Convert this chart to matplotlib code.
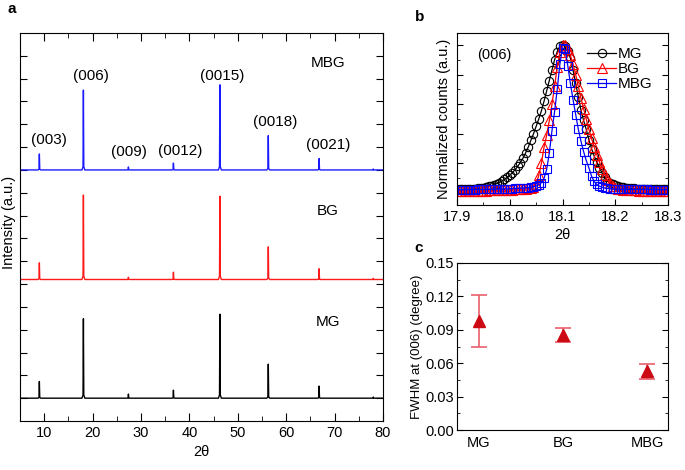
import numpy as np
import matplotlib
matplotlib.use("Agg")
import matplotlib.pyplot as plt
from matplotlib.ticker import MultipleLocator

plt.rcParams['font.family'] = ['Liberation Sans', 'DejaVu Sans']

# ---- panel a: XRD patterns (peak position, height above baseline) ----
peak_pos = [9.0, 18.1, 27.4, 36.7, 46.3, 56.3, 66.8, 78.0]
peak_labels = ["(003)", "(006)", "(009)", "(0012)", "(0015)", "(0018)", "(0021)"]
label_x = [11.0, 19.6, 27.5, 38.1, 46.7, 57.7, 68.6]
label_y = [12.3, 15.1, 11.8, 11.85, 15.1, 13.1, 12.1]

mg_heights = [0.73, 3.48, 0.18, 0.35, 3.68, 1.49, 0.53, 0.05]
bg_heights = [0.73, 3.70, 0.10, 0.32, 3.65, 1.43, 0.47, 0.05]
mbg_heights = [0.70, 3.50, 0.13, 0.30, 3.73, 1.50, 0.50, 0.04]
offsets = [1.0, 6.2, 11.0]
sample_names = ["MG", "BG", "MBG"]
sample_colors = ["black", "#ff1a1a", "#1a1aff"]
name_y = [4.35, 9.2, 15.7]

# ---- panel b: normalized (006) peak ----
two_theta = np.round(np.arange(17.9, 18.3001, 0.005), 3)
mg_norm = [0.025, 0.025, 0.025, 0.026, 0.026, 0.027, 0.028, 0.029, 0.031, 0.034,
           0.037, 0.041, 0.045, 0.05, 0.056, 0.063, 0.071, 0.081, 0.092, 0.105,
           0.12, 0.137, 0.157, 0.18, 0.206, 0.235, 0.27, 0.31, 0.355, 0.40,
           0.45, 0.5, 0.555, 0.62, 0.69, 0.76, 0.83, 0.9, 0.955, 0.99,
           1.0,
           0.99, 0.96, 0.91, 0.83, 0.74, 0.65, 0.56, 0.49, 0.43, 0.36,
           0.30, 0.25, 0.21, 0.17, 0.135, 0.105, 0.083, 0.068, 0.058, 0.051,
           0.046, 0.042, 0.039, 0.036, 0.034, 0.032, 0.031, 0.030, 0.029, 0.028,
           0.028, 0.027, 0.027, 0.027, 0.026, 0.026, 0.026, 0.026, 0.026, 0.026]
bg_norm = [0.012, 0.012, 0.012, 0.013, 0.013, 0.013, 0.014, 0.014, 0.015, 0.015,
           0.016, 0.016, 0.017, 0.017, 0.018, 0.018, 0.019, 0.02, 0.02, 0.021,
           0.022, 0.023, 0.024, 0.025, 0.026, 0.027, 0.029, 0.031, 0.034, 0.04,
           0.06, 0.12, 0.2, 0.31, 0.39, 0.49, 0.6, 0.72, 0.85, 0.95,
           1.0,
           1.0, 0.97, 0.93, 0.87, 0.80, 0.72, 0.64, 0.57, 0.50, 0.43,
           0.37, 0.31, 0.26, 0.21, 0.165, 0.125, 0.09, 0.065, 0.048, 0.037,
           0.03, 0.026, 0.023, 0.021, 0.02, 0.019, 0.018, 0.017, 0.016, 0.016,
           0.015, 0.015, 0.015, 0.014, 0.014, 0.014, 0.014, 0.013, 0.013, 0.013]
mbg_norm = [0.022, 0.022, 0.022, 0.022, 0.023, 0.023, 0.023, 0.023, 0.024, 0.024,
            0.024, 0.025, 0.025, 0.025, 0.026, 0.026, 0.027, 0.027, 0.028, 0.028,
            0.029, 0.03, 0.031, 0.032, 0.033, 0.034, 0.035, 0.037, 0.039, 0.042,
            0.047, 0.055, 0.07, 0.1, 0.16, 0.27, 0.42, 0.55, 0.70, 0.87,
            0.98,
            0.97, 0.86, 0.74, 0.63, 0.53, 0.43, 0.35, 0.28, 0.22, 0.17,
            0.115, 0.078, 0.058, 0.046, 0.039, 0.034, 0.031, 0.029, 0.028, 0.027,
            0.026, 0.026, 0.025, 0.025, 0.025, 0.025, 0.024, 0.024, 0.024, 0.024,
            0.024, 0.024, 0.023, 0.023, 0.023, 0.023, 0.023, 0.023, 0.023, 0.023]

# ---- panel c: FWHM ----
fwhm = [0.098, 0.0855, 0.0534]
fwhm_err_low = [0.0233, 0.0063, 0.0075]
fwhm_err_high = [0.0229, 0.0057, 0.0060]


def pattern(heights, base):
    # thin peaks drawn as narrow spikes on a flat baseline
    xs = [5.0]
    ys = [base]
    for p, h in zip(peak_pos, heights):
        xs += [p - 0.3, p - 0.08, p, p + 0.08, p + 0.3]
        ys += [base, base + 0.04 * h, base + h, base + 0.04 * h, base]
    xs.append(80.0)
    ys.append(base)
    return xs, ys


fig = plt.figure(figsize=(6.85, 4.7), dpi=100)

# panel a
ax = fig.add_axes([20 / 685, 1 - 421 / 470, 363 / 685, 388 / 470])
for heights, base, name, col, ny in zip([mg_heights, bg_heights, mbg_heights],
                                        offsets, sample_names, sample_colors, name_y):
    xs, ys = pattern(heights, base)
    ax.plot(xs, ys, color=col, lw=1.0)
    ax.text(68.6, ny, name, fontsize=11, ha='center', va='center')
for lab, lx, ly in zip(peak_labels, label_x, label_y):
    ax.text(lx, ly, lab, fontsize=11, ha='center', va='center')
ax.set_xlim(5, 80)
ax.set_ylim(0, 17)
ax.xaxis.set_major_locator(MultipleLocator(10))
ax.xaxis.set_minor_locator(MultipleLocator(5))
ax.set_yticks(np.arange(1, 17))
ax.tick_params(axis='x', which='both', direction='in', top=True, labelsize=10.5)
ax.tick_params(axis='x', which='major', length=6)
ax.tick_params(axis='x', which='minor', length=3.5)
ax.tick_params(axis='y', which='both', direction='in', right=True, labelleft=False, length=5)
ax.set_xlabel("2θ", fontsize=10.5, labelpad=4)
fig.text(9 / 685, 1 - 222 / 470, "Intensity (a.u.)", rotation=90, fontsize=10.5,
         ha='center', va='center')
fig.text(12 / 685, 1 - 9 / 470, "a", fontsize=11, fontweight='bold', ha='center', va='center')

# panel b
bx = fig.add_axes([457 / 685, 1 - 205 / 470, 211 / 685, 172 / 470])
bx.plot(two_theta, mg_norm, '-o', color='black', mfc='none', ms=6, mew=0.8, lw=0.9, label='MG')
bx.plot(two_theta, bg_norm, '-^', color='red', mfc='none', ms=6.5, mew=0.8, lw=0.9, label='BG')
bx.plot(two_theta, mbg_norm, '-s', color='blue', mfc='none', ms=5.5, mew=0.8, lw=0.9, label='MBG')
bx.set_xlim(17.9, 18.3)
bx.set_ylim(-0.081, 1.081)
bx.xaxis.set_major_locator(MultipleLocator(0.1))
bx.xaxis.set_minor_locator(MultipleLocator(0.05))
bx.yaxis.set_major_locator(MultipleLocator(0.2))
bx.yaxis.set_minor_locator(MultipleLocator(0.1))
bx.tick_params(axis='x', which='both', direction='in', labelsize=10.5)
bx.tick_params(axis='y', which='both', direction='in', right=True, labelleft=False)
bx.tick_params(which='major', length=4)
bx.tick_params(which='minor', length=2.5)
bx.set_xticks([17.9, 18.0, 18.1, 18.2, 18.3])
bx.set_xticklabels(["17.9", "18.0", "18.1", "18.2", "18.3"])
bx.text(17.97, 0.93, "(006)", fontsize=10.5, ha='center', va='center')
bx.legend(loc='upper right', frameon=False, fontsize=11, handlelength=1.9,
          handletextpad=0.1, labelspacing=0.05, borderaxespad=0.2,
          bbox_to_anchor=(0.97, 0.97))
bx.set_xlabel("2θ", fontsize=10.5, labelpad=3)
bx.set_ylabel("Normalized counts (a.u.)", fontsize=10.5, labelpad=4)
fig.text(420 / 685, 1 - 17 / 470, "b", fontsize=11, fontweight='bold', ha='center', va='center')

# panel c
cx = fig.add_axes([457 / 685, 1 - 430 / 470, 211 / 685, 167 / 470])
cx.errorbar([1, 2, 3], fwhm, yerr=[fwhm_err_low, fwhm_err_high], fmt='none',
            ecolor='#e8606c', elinewidth=1.2, capsize=6, capthick=1.2)
cx.plot([1, 2, 3], fwhm, '^', color='#cc0a14', ms=9, ls='none')
cx.set_xlim(0.74, 3.25)
cx.set_ylim(0, 0.15)
cx.set_xticks([1, 2, 3])
cx.set_xticklabels(sample_names)
cx.yaxis.set_major_locator(MultipleLocator(0.03))
cx.yaxis.set_minor_locator(MultipleLocator(0.015))
cx.yaxis.set_major_formatter(matplotlib.ticker.FormatStrFormatter('%.2f'))
cx.tick_params(axis='x', length=0, labelsize=10.5, pad=4)
cx.tick_params(axis='y', which='both', direction='in', right=True, labelsize=10.5, pad=2)
cx.tick_params(axis='y', which='major', length=4)
cx.tick_params(axis='y', which='minor', length=2.5)
cx.set_ylabel("FWHM at (006) (degree)", fontsize=9.5)
cx.yaxis.set_label_coords(-0.16, 0.5)
fig.text(419 / 685, 1 - 248 / 470, "c", fontsize=11, fontweight='bold', ha='center', va='center')

fig.savefig("out.png", dpi=100)
